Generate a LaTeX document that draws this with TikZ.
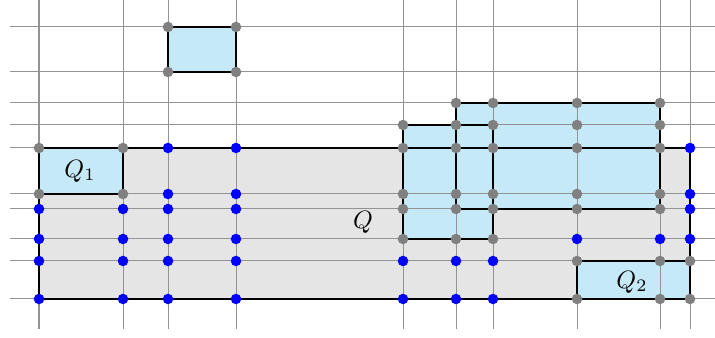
\documentclass[tikz,border=0pt]{standalone}
\usepackage{amsthm,amssymb,amsmath}
\usepackage{tikz}
\pgfdeclarelayer{bg}
\pgfsetlayers{bg,main}
\definecolor{boxblue}{RGB}{198,233,248}
\tikzset{gdot/.style={circle, draw=none, fill=gray, minimum size=4.2pt, inner sep=0mm}}
\tikzset{bdot/.style={circle, draw=none, fill=blue, minimum size=4.2pt, inner sep=0mm}}
\tikzset{gridline/.style={gray!85, line width=0.4pt}}
\tikzset{side/.style={draw=black, line width=0.8pt}}

\begin{document}
\begin{tikzpicture}[x=0.014cm, y=-0.014cm]
  \useasboundingbox (0,0) rectangle (715,338);

  \begin{pgfonlayer}{bg}
    \fill [gray!20] (39,148) rectangle (690,299);
    \fill [boxblue] (39,148) rectangle (123,194);
    \fill [boxblue] (168,27) rectangle (236,72);
    \fill [boxblue] (403,125) rectangle (493,239);
    \fill [boxblue] (456,103) rectangle (660,209);
    \fill [boxblue] (577,261) rectangle (690,299);

    % grid
    \draw [gridline] (39,0) -- (39,329) (123,0) -- (123,329) (168,0) -- (168,329)
      (236,0) -- (236,329) (403,0) -- (403,329) (456,0) -- (456,329)
      (493,0) -- (493,329) (577,0) -- (577,329) (660,0) -- (660,329)
      (690,0) -- (690,329);
    \draw [gridline] (10,27) -- (715,27) (10,72) -- (715,72) (10,103) -- (715,103)
      (10,125) -- (715,125) (10,148) -- (715,148) (10,194) -- (715,194)
      (10,209) -- (715,209) (10,239) -- (715,239) (10,261) -- (715,261)
      (10,299) -- (715,299);
  \end{pgfonlayer}

  \draw [side] (39,148) rectangle (690,299);
  \draw [side] (39,148) rectangle (123,194);
  \draw [side] (168,27) rectangle (236,72);
  \draw [side] (403,125) rectangle (493,239);
  \draw [side] (456,103) rectangle (660,209);
  \draw [side] (577,261) rectangle (690,299);

  \node (lq1) at (80,171) {$Q_1$};
  \node (lq) at (363,222) {$Q$};
  \node (lq2) at (632,282) {$Q_2$};

  % corners and crossings on the blue boxes
  \node (g1) [gdot] at (168,27) {}; \node (g2) [gdot] at (236,27) {};
  \node (g3) [gdot] at (168,72) {}; \node (g4) [gdot] at (236,72) {};
  \node (g5) [gdot] at (39,148) {}; \node (g6) [gdot] at (123,148) {};
  \node (g7) [gdot] at (39,194) {}; \node (g8) [gdot] at (123,194) {};
  \node (g9) [gdot] at (456,103) {}; \node (g10) [gdot] at (493,103) {};
  \node (g11) [gdot] at (577,103) {}; \node (g12) [gdot] at (660,103) {};
  \node (g13) [gdot] at (403,125) {}; \node (g14) [gdot] at (456,125) {};
  \node (g15) [gdot] at (493,125) {}; \node (g16) [gdot] at (577,125) {};
  \node (g17) [gdot] at (660,125) {};
  \node (g18) [gdot] at (403,148) {}; \node (g19) [gdot] at (456,148) {};
  \node (g20) [gdot] at (493,148) {}; \node (g21) [gdot] at (577,148) {};
  \node (g22) [gdot] at (660,148) {};
  \node (g23) [gdot] at (403,194) {}; \node (g24) [gdot] at (456,194) {};
  \node (g25) [gdot] at (493,194) {}; \node (g26) [gdot] at (577,194) {};
  \node (g27) [gdot] at (660,194) {};
  \node (g28) [gdot] at (403,209) {}; \node (g29) [gdot] at (456,209) {};
  \node (g30) [gdot] at (493,209) {}; \node (g31) [gdot] at (577,209) {};
  \node (g32) [gdot] at (660,209) {};
  \node (g33) [gdot] at (403,239) {}; \node (g34) [gdot] at (456,239) {};
  \node (g35) [gdot] at (493,239) {};
  \node (g36) [gdot] at (577,261) {}; \node (g37) [gdot] at (660,261) {};
  \node (g38) [gdot] at (690,261) {};
  \node (g39) [gdot] at (577,299) {}; \node (g40) [gdot] at (660,299) {};
  \node (g41) [gdot] at (690,299) {};

  % crossings inside Q only
  \node (b1) [bdot] at (168,148) {}; \node (b2) [bdot] at (236,148) {};
  \node (b3) [bdot] at (690,148) {};
  \node (b4) [bdot] at (168,194) {}; \node (b5) [bdot] at (236,194) {};
  \node (b6) [bdot] at (690,194) {};
  \node (b7) [bdot] at (39,209) {}; \node (b8) [bdot] at (123,209) {};
  \node (b9) [bdot] at (168,209) {}; \node (b10) [bdot] at (236,209) {};
  \node (b11) [bdot] at (690,209) {};
  \node (b12) [bdot] at (39,239) {}; \node (b13) [bdot] at (123,239) {};
  \node (b14) [bdot] at (168,239) {}; \node (b15) [bdot] at (236,239) {};
  \node (b16) [bdot] at (577,239) {}; \node (b17) [bdot] at (660,239) {};
  \node (b18) [bdot] at (690,239) {};
  \node (b19) [bdot] at (39,261) {}; \node (b20) [bdot] at (123,261) {};
  \node (b21) [bdot] at (168,261) {}; \node (b22) [bdot] at (236,261) {};
  \node (b23) [bdot] at (403,261) {}; \node (b24) [bdot] at (456,261) {};
  \node (b25) [bdot] at (493,261) {};
  \node (b26) [bdot] at (39,299) {}; \node (b27) [bdot] at (123,299) {};
  \node (b28) [bdot] at (168,299) {}; \node (b29) [bdot] at (236,299) {};
  \node (b30) [bdot] at (403,299) {}; \node (b31) [bdot] at (456,299) {};
  \node (b32) [bdot] at (493,299) {};
\end{tikzpicture}
\end{document}
